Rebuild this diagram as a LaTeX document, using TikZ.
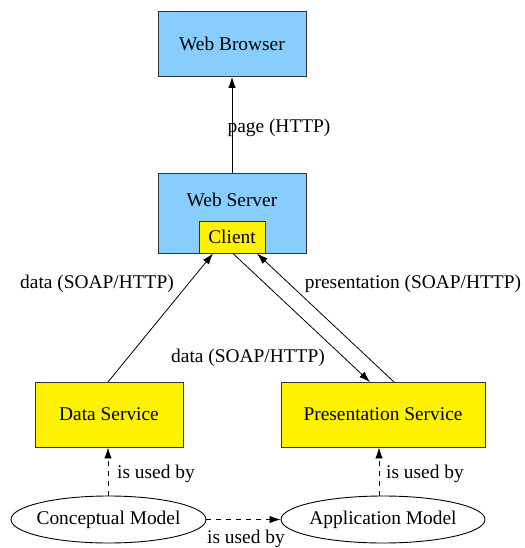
\documentclass[tikz,border=0pt]{standalone}
\usepackage{fontspec}
\setmainfont{Liberation Serif}
\usetikzlibrary{arrows.meta,shapes.geometric}
\definecolor{lblue}{RGB}{135,206,255}
\begin{document}
\begin{tikzpicture}[x=1pt,y=-1pt,
  every node/.style={font=\fontsize{19.4}{22}\selectfont, inner sep=0pt},
  bluebox/.style={draw=black!80, fill=lblue, line width=0.9pt, minimum width=148pt, minimum height=65pt},
  ybox/.style={draw=black!80, fill=yellow, line width=0.9pt, minimum height=65pt},
  model/.style={draw=black, ellipse, line width=0.9pt, minimum height=47pt},
  conn/.style={line width=0.8pt, -{Latex[length=11pt,width=7.5pt]}},
  dconn/.style={conn, dash pattern=on 5pt off 5pt},
  lbl/.style={}
]
\useasboundingbox (0,0) rectangle (524,548);
\node[bluebox] (browser) at (232,44) {Web Browser};
\node[bluebox, minimum height=80pt] (server) at (232,213) {};
\node (servertxt) at (232,199.5) {Web Server};
\node[draw=black!80, fill=yellow, line width=0.9pt, minimum width=66pt, minimum height=32pt] (client) at (232,237) {Client};
\node[ybox, minimum width=148pt] (data) at (109,414.5) {Data Service};
\node[ybox, minimum width=204pt] (pres) at (383,414.5) {Presentation Service};
\node[model, minimum width=195pt] (concept) at (108.5,519.5) {};
\node (concepttxt) at (108.5,520) {Conceptual Model};
\node[model, minimum width=204pt] (app) at (383,519.5) {};
\node (apptxt) at (383,520) {Application Model};
\coordinate (cdata) at (213,253.5);
\coordinate (cout) at (233,253.5);
\coordinate (cpres) at (257,253.5);
\coordinate (dtop) at (108,382);
\coordinate (pin) at (370,382);
\coordinate (pout) at (394,382);
\draw[conn] (server.north) -- (browser.south);
\draw[conn] (dtop) -- (cdata);
\draw[conn] (cout) -- (pin);
\draw[conn] (pout) -- (cpres);
\draw[dconn] (concept.north -| 108,0) -- (data.south -| 108,0);
\draw[dconn] (app.north -| 379,0) -- (pres.south -| 379,0);
\draw[dconn] (concept.east) -- (app.west);
\node[lbl] (l1) at (279,128) {page (HTTP)};
\node[lbl] (l2) at (97,284) {data (SOAP/HTTP)};
\node[lbl] (l3) at (413,284) {presentation (SOAP/HTTP)};
\node[lbl] (l4) at (248,358) {data (SOAP/HTTP)};
\node[lbl] (l5) at (156,474) {is used by};
\node[lbl] (l6) at (425,474) {is used by};
\node[lbl] (l7) at (246,539) {is used by};
\end{tikzpicture}
\end{document}
